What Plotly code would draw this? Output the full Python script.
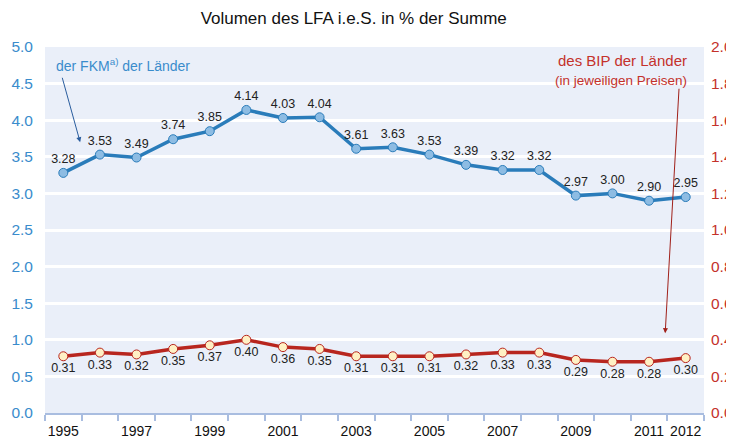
import plotly.graph_objects as go

years = list(range(1995, 2013))
fkm = [3.28, 3.53, 3.49, 3.74, 3.85, 4.14, 4.03, 4.04, 3.61, 3.63,
       3.53, 3.39, 3.32, 3.32, 2.97, 3.00, 2.90, 2.95]
bip = [0.31, 0.33, 0.32, 0.35, 0.37, 0.40, 0.36, 0.35, 0.31, 0.31,
       0.31, 0.32, 0.33, 0.33, 0.29, 0.28, 0.28, 0.30]
tick_years = [1995, 1997, 1999, 2001, 2003, 2005, 2007, 2009, 2011, 2012]

blue = "#2a7cba"
red = "#b8261f"
font = "Liberation Sans, Arial, sans-serif"

fig = go.Figure()

fig.add_trace(go.Scatter(
    x=years, y=fkm, mode="lines+markers+text",
    line=dict(color=blue, width=3.5),
    marker=dict(size=9, color="#8dbce3", line=dict(color=blue, width=1)),
    text=[f"{v:.2f}" for v in fkm], textposition="top center",
    textfont=dict(size=12.5, color="#222222"),
    cliponaxis=False, yaxis="y"))

fig.add_trace(go.Scatter(
    x=years, y=bip, mode="lines+markers+text",
    line=dict(color=red, width=3.5),
    marker=dict(size=9, color="#fff0c4", line=dict(color=red, width=1)),
    text=[f"{v:.2f}" for v in bip], textposition="bottom center",
    textfont=dict(size=12.5, color="#222222"),
    cliponaxis=False, yaxis="y2"))

# labels and arrows
fig.add_annotation(x=1994.75, y=4.75, xref="x", yref="y", xanchor="left",
                   text="der FKM<sup>a)</sup> der Länder", showarrow=False,
                   font=dict(size=14, color="#3a8ccc", family=font))
fig.add_annotation(x=1995.46, y=3.70, ax=1994.96, ay=4.60, xref="x", yref="y",
                   axref="x", ayref="y", showarrow=True, arrowhead=2,
                   arrowsize=1, arrowwidth=1, arrowcolor="#2a5d9e", text="")
fig.add_annotation(x=2012.08, y=4.67, xref="x", yref="y", xanchor="right",
                   yanchor="bottom", text="des BIP der Länder", showarrow=False,
                   font=dict(size=15, color="#c4312b", family=font))
fig.add_annotation(x=2012.08, y=4.67, xref="x", yref="y", xanchor="right",
                   yanchor="top", text="(in jeweiligen Preisen)", showarrow=False,
                   font=dict(size=13.5, color="#c4312b", family=font))
fig.add_annotation(x=2011.44, y=1.09, ax=2011.82, ay=4.45, xref="x", yref="y",
                   axref="x", ayref="y", showarrow=True, arrowhead=2,
                   arrowsize=1, arrowwidth=1, arrowcolor="#a0201a", text="")

# page body adds an 8px offset, so margins are reduced accordingly
fig.update_layout(
    width=734, height=443,
    margin=dict(l=37, r=38, t=39, b=38),
    paper_bgcolor="white", plot_bgcolor="#eaeff9",
    showlegend=False,
    font=dict(family=font),
    title=dict(text="Volumen des LFA i.e.S. in % der Summe", x=0.471, xanchor="center",
               y=0.977, yanchor="middle", font=dict(size=17, color="#111111")),
    xaxis=dict(range=[1994.5, 2012.5], tickmode="array", tickvals=tick_years,
               ticktext=[str(y) for y in tick_years], ticks="", showgrid=False,
               zeroline=False, showline=True, linecolor="#a9bde0", linewidth=1.5,
               automargin=False, ticklabelstandoff=4,
               tickfont=dict(size=14, color="#111111"),
               minor=dict(tick0=1994.5, dtick=1, ticks="outside", ticklen=6,
                          tickcolor="#a9bde0", tickwidth=1.5, showgrid=False)),
    yaxis=dict(range=[0, 5], dtick=0.5, tickformat=".1f", showgrid=True,
               gridcolor="white", gridwidth=3, zeroline=False, automargin=False,
               ticklabelstandoff=11,
               tickfont=dict(size=15.5, color="#3a8ccc"), ticks=""),
    yaxis2=dict(range=[0, 2], dtick=0.2, tickformat=".1f", overlaying="y",
                side="right", showgrid=False, zeroline=False, automargin=False,
                ticklabelstandoff=6,
                tickfont=dict(size=15.5, color="#c4312b"), ticks=""),
)

fig.write_html("out.html")
